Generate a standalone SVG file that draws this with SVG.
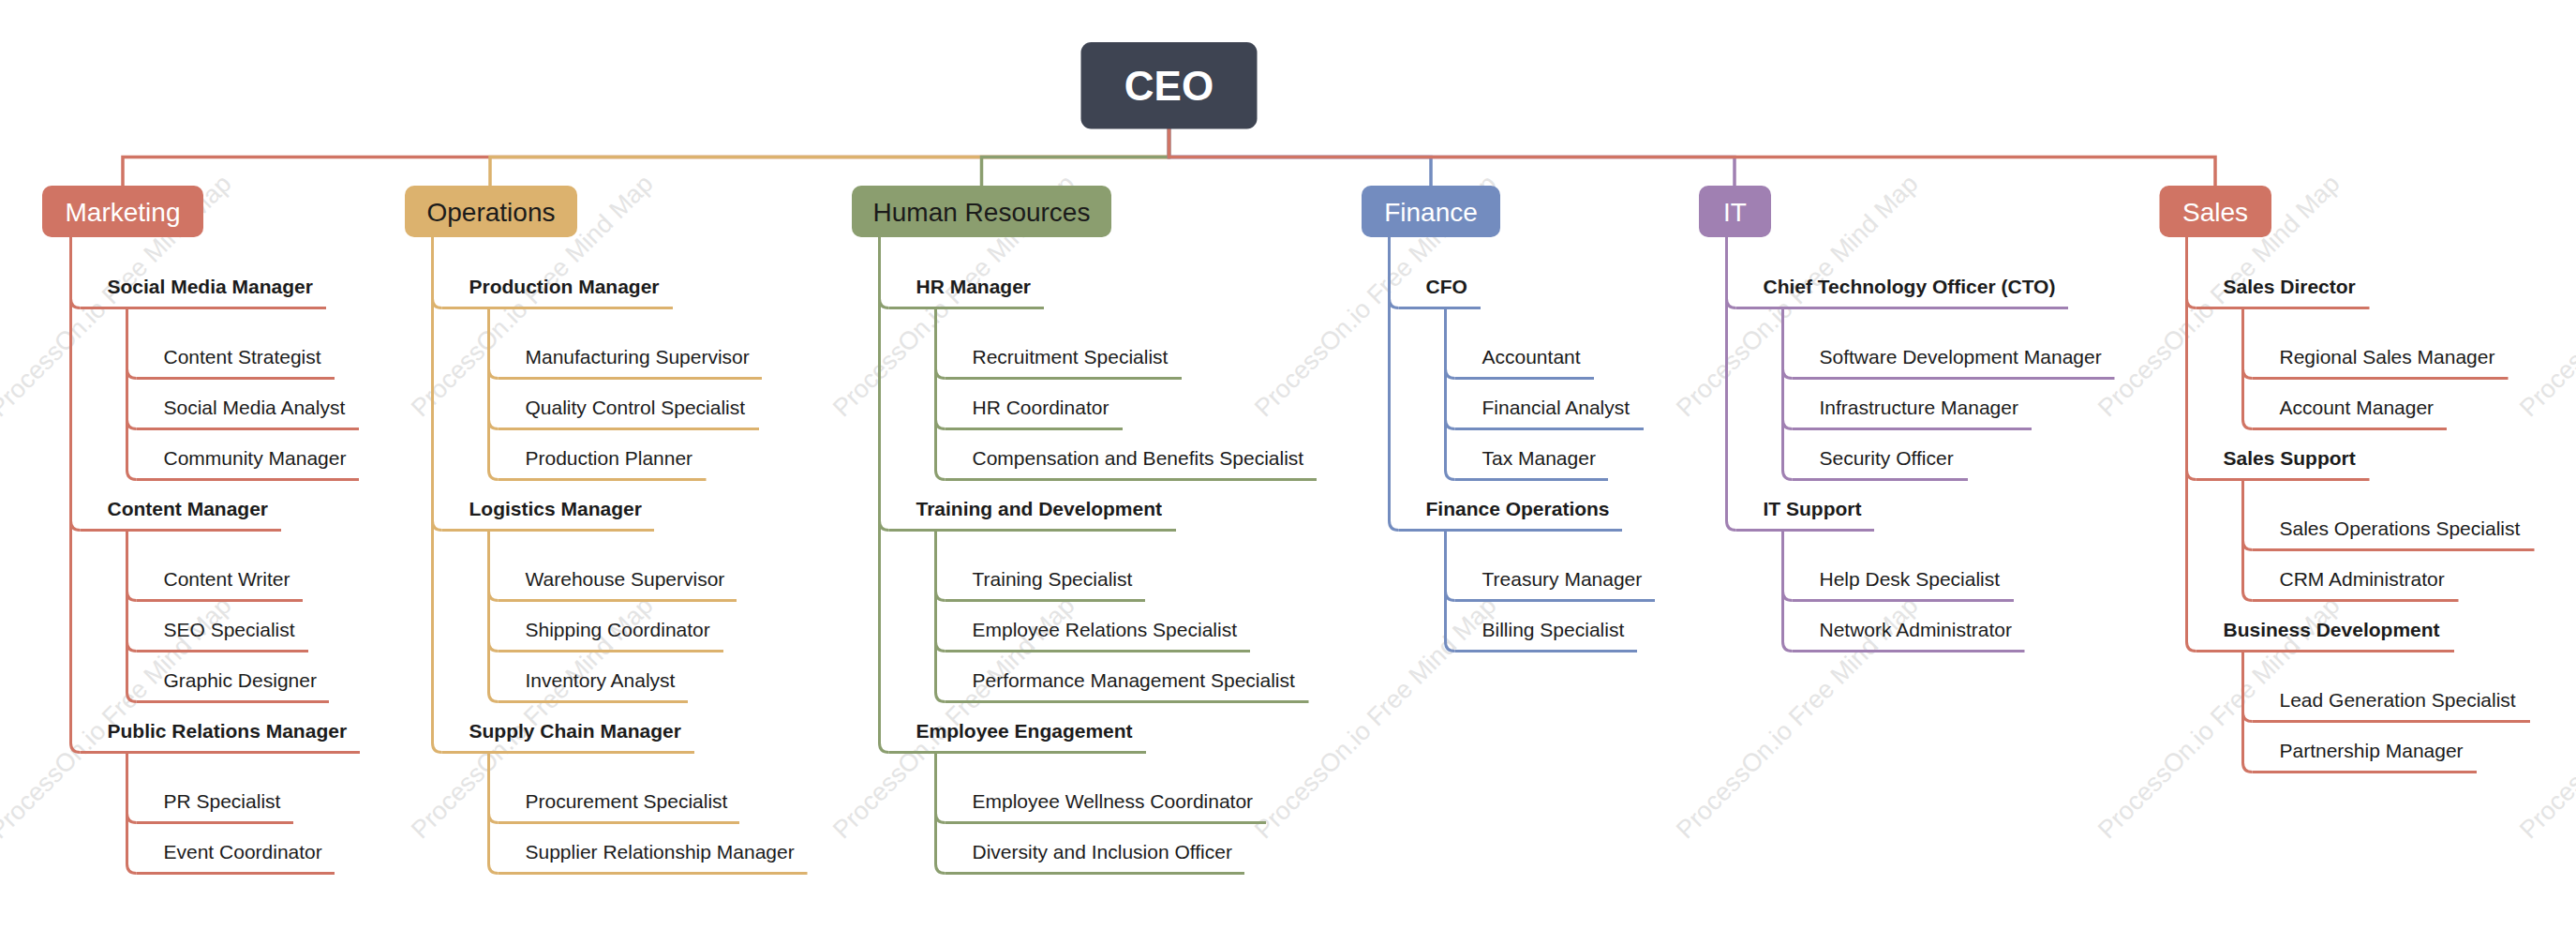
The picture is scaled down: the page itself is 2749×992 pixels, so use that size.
<svg xmlns="http://www.w3.org/2000/svg" width="2749" height="992" viewBox="0 0 2749 992">
<style>
text{font-family:"Liberation Sans",Arial,sans-serif;fill:#1b1b1b}
.wm{font-size:27px;fill:#e4e4e4}
.dept{font-size:28px;text-anchor:middle}
.w{fill:#ffffff}
.l2{font-size:21px;font-weight:bold}
.l3{font-size:21px}
path,line{fill:none;stroke-width:3}
.bus{stroke-width:3.5;stroke-linejoin:miter}
.r{stroke:#D07464}.y{stroke:#DCB26E}.g{stroke:#8B9E6F}.b{stroke:#738CBF}.p{stroke:#A080B2}
.fr{fill:#D07464}.fy{fill:#DCB26E}.fg{fill:#8B9E6F}.fb{fill:#738CBF}.fp{fill:#A080B2}
</style>
<rect width="2749" height="992" fill="#ffffff"/>
<g id="watermark">
<text class="wm" transform="translate(0,446) rotate(-45)">ProcessOn.io Free Mind Map</text>
<text class="wm" transform="translate(450,446) rotate(-45)">ProcessOn.io Free Mind Map</text>
<text class="wm" transform="translate(900,446) rotate(-45)">ProcessOn.io Free Mind Map</text>
<text class="wm" transform="translate(1350,446) rotate(-45)">ProcessOn.io Free Mind Map</text>
<text class="wm" transform="translate(1800,446) rotate(-45)">ProcessOn.io Free Mind Map</text>
<text class="wm" transform="translate(2250,446) rotate(-45)">ProcessOn.io Free Mind Map</text>
<text class="wm" transform="translate(2700,446) rotate(-45)">ProcessOn.io Free Mind Map</text>
<text class="wm" transform="translate(0,896) rotate(-45)">ProcessOn.io Free Mind Map</text>
<text class="wm" transform="translate(450,896) rotate(-45)">ProcessOn.io Free Mind Map</text>
<text class="wm" transform="translate(900,896) rotate(-45)">ProcessOn.io Free Mind Map</text>
<text class="wm" transform="translate(1350,896) rotate(-45)">ProcessOn.io Free Mind Map</text>
<text class="wm" transform="translate(1800,896) rotate(-45)">ProcessOn.io Free Mind Map</text>
<text class="wm" transform="translate(2250,896) rotate(-45)">ProcessOn.io Free Mind Map</text>
<text class="wm" transform="translate(2700,896) rotate(-45)">ProcessOn.io Free Mind Map</text>
</g>
<g id="connectors">
<path class="bus r" d="M1247.5,137 V167.5 H131 V198"/>
<path class="bus y" d="M1247.5,137 V167.5 H523 V198"/>
<path class="bus g" d="M1247.5,137 V167.5 H1047.5 V198"/>
<path class="bus b" d="M1247.5,137 V167.5 H1527 V198"/>
<path class="bus p" d="M1247.5,137 V167.5 H1851 V198"/>
<path class="bus r" d="M1247.5,137 V167.5 H2364 V198"/>
<!-- Marketing -->
<path class="r" d="M75.5,253 V318.5 Q75.5,328.5 85.5,328.5 M75.5,253 V555.5 Q75.5,565.5 85.5,565.5 M75.5,253 V792.5 Q75.5,802.5 85.5,802.5"/>
<path class="r" d="M135.5,328.5 V393.5 Q135.5,403.5 145.5,403.5 M135.5,328.5 V447.5 Q135.5,457.5 145.5,457.5 M135.5,328.5 V501.5 Q135.5,511.5 145.5,511.5"/>
<path class="r" d="M135.5,565.5 V630.5 Q135.5,640.5 145.5,640.5 M135.5,565.5 V684.5 Q135.5,694.5 145.5,694.5 M135.5,565.5 V738.5 Q135.5,748.5 145.5,748.5"/>
<path class="r" d="M135.5,802.5 V867.5 Q135.5,877.5 145.5,877.5 M135.5,802.5 V921.5 Q135.5,931.5 145.5,931.5"/>
<!-- Operations -->
<path class="y" d="M461.5,253 V318.5 Q461.5,328.5 471.5,328.5 M461.5,253 V555.5 Q461.5,565.5 471.5,565.5 M461.5,253 V792.5 Q461.5,802.5 471.5,802.5"/>
<path class="y" d="M521.5,328.5 V393.5 Q521.5,403.5 531.5,403.5 M521.5,328.5 V447.5 Q521.5,457.5 531.5,457.5 M521.5,328.5 V501.5 Q521.5,511.5 531.5,511.5"/>
<path class="y" d="M521.5,565.5 V630.5 Q521.5,640.5 531.5,640.5 M521.5,565.5 V684.5 Q521.5,694.5 531.5,694.5 M521.5,565.5 V738.5 Q521.5,748.5 531.5,748.5"/>
<path class="y" d="M521.5,802.5 V867.5 Q521.5,877.5 531.5,877.5 M521.5,802.5 V921.5 Q521.5,931.5 531.5,931.5"/>
<!-- HR -->
<path class="g" d="M938.5,253 V318.5 Q938.5,328.5 948.5,328.5 M938.5,253 V555.5 Q938.5,565.5 948.5,565.5 M938.5,253 V792.5 Q938.5,802.5 948.5,802.5"/>
<path class="g" d="M998.5,328.5 V393.5 Q998.5,403.5 1008.5,403.5 M998.5,328.5 V447.5 Q998.5,457.5 1008.5,457.5 M998.5,328.5 V501.5 Q998.5,511.5 1008.5,511.5"/>
<path class="g" d="M998.5,565.5 V630.5 Q998.5,640.5 1008.5,640.5 M998.5,565.5 V684.5 Q998.5,694.5 1008.5,694.5 M998.5,565.5 V738.5 Q998.5,748.5 1008.5,748.5"/>
<path class="g" d="M998.5,802.5 V867.5 Q998.5,877.5 1008.5,877.5 M998.5,802.5 V921.5 Q998.5,931.5 1008.5,931.5"/>
<!-- Finance -->
<path class="b" d="M1482.5,253 V318.5 Q1482.5,328.5 1492.5,328.5 M1482.5,253 V555.5 Q1482.5,565.5 1492.5,565.5"/>
<path class="b" d="M1542.5,328.5 V393.5 Q1542.5,403.5 1552.5,403.5 M1542.5,328.5 V447.5 Q1542.5,457.5 1552.5,457.5 M1542.5,328.5 V501.5 Q1542.5,511.5 1552.5,511.5"/>
<path class="b" d="M1542.5,565.5 V630.5 Q1542.5,640.5 1552.5,640.5 M1542.5,565.5 V684.5 Q1542.5,694.5 1552.5,694.5"/>
<!-- IT -->
<path class="p" d="M1842.5,253 V318.5 Q1842.5,328.5 1852.5,328.5 M1842.5,253 V555.5 Q1842.5,565.5 1852.5,565.5"/>
<path class="p" d="M1902.5,328.5 V393.5 Q1902.5,403.5 1912.5,403.5 M1902.5,328.5 V447.5 Q1902.5,457.5 1912.5,457.5 M1902.5,328.5 V501.5 Q1902.5,511.5 1912.5,511.5"/>
<path class="p" d="M1902.5,565.5 V630.5 Q1902.5,640.5 1912.5,640.5 M1902.5,565.5 V684.5 Q1902.5,694.5 1912.5,694.5"/>
<!-- Sales -->
<path class="r" d="M2333.5,253 V318.5 Q2333.5,328.5 2343.5,328.5 M2333.5,253 V501.5 Q2333.5,511.5 2343.5,511.5 M2333.5,253 V684.5 Q2333.5,694.5 2343.5,694.5"/>
<path class="r" d="M2393.5,328.5 V393.5 Q2393.5,403.5 2403.5,403.5 M2393.5,328.5 V447.5 Q2393.5,457.5 2403.5,457.5"/>
<path class="r" d="M2393.5,511.5 V576.5 Q2393.5,586.5 2403.5,586.5 M2393.5,511.5 V630.5 Q2393.5,640.5 2403.5,640.5"/>
<path class="r" d="M2393.5,694.5 V759.5 Q2393.5,769.5 2403.5,769.5 M2393.5,694.5 V813.5 Q2393.5,823.5 2403.5,823.5"/>
</g>
<g id="ceo">
<rect x="1153.5" y="45" width="188" height="92.5" rx="11" fill="#3E4452"/>
<text x="1247.5" y="107" text-anchor="middle" style="font-size:44px;font-weight:bold;fill:#ffffff">CEO</text>
</g>
<g id="marketing"><rect x="45" y="198" width="172" height="55" rx="10" class="fr"/><text class="dept w" x="131" y="235.5">Marketing</text></g>
<g id="operations"><rect x="432" y="198" width="184" height="55" rx="10" class="fy"/><text class="dept" x="524" y="235.5">Operations</text></g>
<g id="human-resources"><rect x="909" y="198" width="277" height="55" rx="10" class="fg"/><text class="dept" x="1047.5" y="235.5">Human Resources</text></g>
<g id="finance"><rect x="1453" y="198" width="148" height="55" rx="10" class="fb"/><text class="dept w" x="1527" y="235.5">Finance</text></g>
<g id="it"><rect x="1813" y="198" width="77" height="55" rx="10" class="fp"/><text class="dept w" x="1851.5" y="235.5">IT</text></g>
<g id="sales"><rect x="2304.5" y="198" width="119.5" height="55" rx="10" class="fr"/><text class="dept w" x="2364" y="235.5">Sales</text></g>
<!-- Marketing children -->
<g id="social-media-manager"><line class="r" x1="85.5" y1="328.5" x2="348" y2="328.5"/><text class="l2" x="114.5" y="313">Social Media Manager</text></g>
<g id="content-strategist"><line class="r" x1="145.5" y1="403.5" x2="357" y2="403.5"/><text class="l3" x="174.5" y="388">Content Strategist</text></g>
<g id="social-media-analyst"><line class="r" x1="145.5" y1="457.5" x2="383" y2="457.5"/><text class="l3" x="174.5" y="442">Social Media Analyst</text></g>
<g id="community-manager"><line class="r" x1="145.5" y1="511.5" x2="383" y2="511.5"/><text class="l3" x="174.5" y="496">Community Manager</text></g>
<g id="content-manager"><line class="r" x1="85.5" y1="565.5" x2="300" y2="565.5"/><text class="l2" x="114.5" y="550">Content Manager</text></g>
<g id="content-writer"><line class="r" x1="145.5" y1="640.5" x2="323" y2="640.5"/><text class="l3" x="174.5" y="625">Content Writer</text></g>
<g id="seo-specialist"><line class="r" x1="145.5" y1="694.5" x2="329" y2="694.5"/><text class="l3" x="174.5" y="679">SEO Specialist</text></g>
<g id="graphic-designer"><line class="r" x1="145.5" y1="748.5" x2="351" y2="748.5"/><text class="l3" x="174.5" y="733">Graphic Designer</text></g>
<g id="public-relations-manager"><line class="r" x1="85.5" y1="802.5" x2="384" y2="802.5"/><text class="l2" x="114.5" y="787">Public Relations Manager</text></g>
<g id="pr-specialist"><line class="r" x1="145.5" y1="877.5" x2="313" y2="877.5"/><text class="l3" x="174.5" y="862">PR Specialist</text></g>
<g id="event-coordinator"><line class="r" x1="145.5" y1="931.5" x2="357" y2="931.5"/><text class="l3" x="174.5" y="916">Event Coordinator</text></g>
<!-- Operations children -->
<g id="production-manager"><line class="y" x1="471.5" y1="328.5" x2="718" y2="328.5"/><text class="l2" x="500.5" y="313">Production Manager</text></g>
<g id="manufacturing-supervisor"><line class="y" x1="531.5" y1="403.5" x2="813" y2="403.5"/><text class="l3" x="560.5" y="388">Manufacturing Supervisor</text></g>
<g id="quality-control-specialist"><line class="y" x1="531.5" y1="457.5" x2="810" y2="457.5"/><text class="l3" x="560.5" y="442">Quality Control Specialist</text></g>
<g id="production-planner"><line class="y" x1="531.5" y1="511.5" x2="753.5" y2="511.5"/><text class="l3" x="560.5" y="496">Production Planner</text></g>
<g id="logistics-manager"><line class="y" x1="471.5" y1="565.5" x2="698" y2="565.5"/><text class="l2" x="500.5" y="550">Logistics Manager</text></g>
<g id="warehouse-supervisor"><line class="y" x1="531.5" y1="640.5" x2="786" y2="640.5"/><text class="l3" x="560.5" y="625">Warehouse Supervisor</text></g>
<g id="shipping-coordinator"><line class="y" x1="531.5" y1="694.5" x2="772" y2="694.5"/><text class="l3" x="560.5" y="679">Shipping Coordinator</text></g>
<g id="inventory-analyst"><line class="y" x1="531.5" y1="748.5" x2="734" y2="748.5"/><text class="l3" x="560.5" y="733">Inventory Analyst</text></g>
<g id="supply-chain-manager"><line class="y" x1="471.5" y1="802.5" x2="741" y2="802.5"/><text class="l2" x="500.5" y="787">Supply Chain Manager</text></g>
<g id="procurement-specialist"><line class="y" x1="531.5" y1="877.5" x2="789" y2="877.5"/><text class="l3" x="560.5" y="862">Procurement Specialist</text></g>
<g id="supplier-relationship-manager"><line class="y" x1="531.5" y1="931.5" x2="861.5" y2="931.5"/><text class="l3" x="560.5" y="916">Supplier Relationship Manager</text></g>
<!-- HR children -->
<g id="hr-manager"><line class="g" x1="948.5" y1="328.5" x2="1114" y2="328.5"/><text class="l2" x="977.5" y="313">HR Manager</text></g>
<g id="recruitment-specialist"><line class="g" x1="1008.5" y1="403.5" x2="1261" y2="403.5"/><text class="l3" x="1037.5" y="388">Recruitment Specialist</text></g>
<g id="hr-coordinator"><line class="g" x1="1008.5" y1="457.5" x2="1198" y2="457.5"/><text class="l3" x="1037.5" y="442">HR Coordinator</text></g>
<g id="compensation-benefits"><line class="g" x1="1008.5" y1="511.5" x2="1405" y2="511.5"/><text class="l3" x="1037.5" y="496">Compensation and Benefits Specialist</text></g>
<g id="training-development"><line class="g" x1="948.5" y1="565.5" x2="1255" y2="565.5"/><text class="l2" x="977.5" y="550">Training and Development</text></g>
<g id="training-specialist"><line class="g" x1="1008.5" y1="640.5" x2="1222" y2="640.5"/><text class="l3" x="1037.5" y="625">Training Specialist</text></g>
<g id="employee-relations"><line class="g" x1="1008.5" y1="694.5" x2="1334" y2="694.5"/><text class="l3" x="1037.5" y="679">Employee Relations Specialist</text></g>
<g id="performance-management"><line class="g" x1="1008.5" y1="748.5" x2="1396.5" y2="748.5"/><text class="l3" x="1037.5" y="733">Performance Management Specialist</text></g>
<g id="employee-engagement"><line class="g" x1="948.5" y1="802.5" x2="1223" y2="802.5"/><text class="l2" x="977.5" y="787">Employee Engagement</text></g>
<g id="employee-wellness"><line class="g" x1="1008.5" y1="877.5" x2="1351" y2="877.5"/><text class="l3" x="1037.5" y="862">Employee Wellness Coordinator</text></g>
<g id="diversity-inclusion"><line class="g" x1="1008.5" y1="931.5" x2="1328" y2="931.5"/><text class="l3" x="1037.5" y="916">Diversity and Inclusion Officer</text></g>
<!-- Finance children -->
<g id="cfo"><line class="b" x1="1492.5" y1="328.5" x2="1580" y2="328.5"/><text class="l2" x="1521.5" y="313">CFO</text></g>
<g id="accountant"><line class="b" x1="1552.5" y1="403.5" x2="1701" y2="403.5"/><text class="l3" x="1581.5" y="388">Accountant</text></g>
<g id="financial-analyst"><line class="b" x1="1552.5" y1="457.5" x2="1754" y2="457.5"/><text class="l3" x="1581.5" y="442">Financial Analyst</text></g>
<g id="tax-manager"><line class="b" x1="1552.5" y1="511.5" x2="1716" y2="511.5"/><text class="l3" x="1581.5" y="496">Tax Manager</text></g>
<g id="finance-operations"><line class="b" x1="1492.5" y1="565.5" x2="1731" y2="565.5"/><text class="l2" x="1521.5" y="550">Finance Operations</text></g>
<g id="treasury-manager"><line class="b" x1="1552.5" y1="640.5" x2="1766" y2="640.5"/><text class="l3" x="1581.5" y="625">Treasury Manager</text></g>
<g id="billing-specialist"><line class="b" x1="1552.5" y1="694.5" x2="1747" y2="694.5"/><text class="l3" x="1581.5" y="679">Billing Specialist</text></g>
<!-- IT children -->
<g id="cto"><line class="p" x1="1852.5" y1="328.5" x2="2207" y2="328.5"/><text class="l2" x="1881.5" y="313">Chief Technology Officer (CTO)</text></g>
<g id="software-dev-manager"><line class="p" x1="1912.5" y1="403.5" x2="2256.5" y2="403.5"/><text class="l3" x="1941.5" y="388">Software Development Manager</text></g>
<g id="infrastructure-manager"><line class="p" x1="1912.5" y1="457.5" x2="2168" y2="457.5"/><text class="l3" x="1941.5" y="442">Infrastructure Manager</text></g>
<g id="security-officer"><line class="p" x1="1912.5" y1="511.5" x2="2100" y2="511.5"/><text class="l3" x="1941.5" y="496">Security Officer</text></g>
<g id="it-support"><line class="p" x1="1852.5" y1="565.5" x2="2000" y2="565.5"/><text class="l2" x="1881.5" y="550">IT Support</text></g>
<g id="help-desk-specialist"><line class="p" x1="1912.5" y1="640.5" x2="2149" y2="640.5"/><text class="l3" x="1941.5" y="625">Help Desk Specialist</text></g>
<g id="network-administrator"><line class="p" x1="1912.5" y1="694.5" x2="2160.5" y2="694.5"/><text class="l3" x="1941.5" y="679">Network Administrator</text></g>
<!-- Sales children -->
<g id="sales-director"><line class="r" x1="2343.5" y1="328.5" x2="2528.5" y2="328.5"/><text class="l2" x="2372.5" y="313">Sales Director</text></g>
<g id="regional-sales-manager"><line class="r" x1="2403.5" y1="403.5" x2="2676.5" y2="403.5"/><text class="l3" x="2432.5" y="388">Regional Sales Manager</text></g>
<g id="account-manager"><line class="r" x1="2403.5" y1="457.5" x2="2611" y2="457.5"/><text class="l3" x="2432.5" y="442">Account Manager</text></g>
<g id="sales-support"><line class="r" x1="2343.5" y1="511.5" x2="2528.5" y2="511.5"/><text class="l2" x="2372.5" y="496">Sales Support</text></g>
<g id="sales-operations-specialist"><line class="r" x1="2403.5" y1="586.5" x2="2704.5" y2="586.5"/><text class="l3" x="2432.5" y="571">Sales Operations Specialist</text></g>
<g id="crm-administrator"><line class="r" x1="2403.5" y1="640.5" x2="2623.5" y2="640.5"/><text class="l3" x="2432.5" y="625">CRM Administrator</text></g>
<g id="business-development"><line class="r" x1="2343.5" y1="694.5" x2="2619" y2="694.5"/><text class="l2" x="2372.5" y="679">Business Development</text></g>
<g id="lead-generation-specialist"><line class="r" x1="2403.5" y1="769.5" x2="2700" y2="769.5"/><text class="l3" x="2432.5" y="754">Lead Generation Specialist</text></g>
<g id="partnership-manager"><line class="r" x1="2403.5" y1="823.5" x2="2643" y2="823.5"/><text class="l3" x="2432.5" y="808">Partnership Manager</text></g>
</svg>
